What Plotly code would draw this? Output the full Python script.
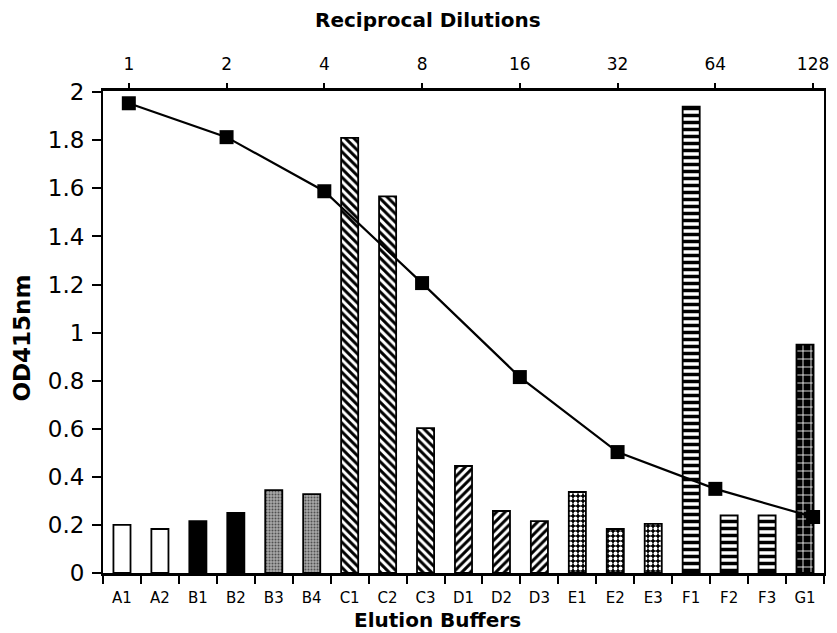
import plotly.graph_objects as go
import math

buffers = ["A1", "A2", "B1", "B2", "B3", "B4", "C1", "C2", "C3", "D1", "D2", "D3",
           "E1", "E2", "E3", "F1", "F2", "F3", "G1"]
od_buffers = [0.20, 0.183, 0.216, 0.25, 0.345, 0.328, 1.81, 1.567, 0.603, 0.445, 0.258, 0.216,
              0.337, 0.183, 0.204, 1.94, 0.24, 0.24, 0.95]

dilutions = [1, 2, 4, 8, 16, 32, 64, 128]
od_dilutions = [1.954, 1.813, 1.588, 1.206, 0.815, 0.503, 0.35, 0.233]

y_ticks = [0, 0.2, 0.4, 0.6, 0.8, 1, 1.2, 1.4, 1.6, 1.8, 2]
y_labels = ["0", "0.2", "0.4", "0.6", "0.8", "1", "1.2", "1.4", "1.6", "1.8", "2"]

# fill style per buffer group: (pattern shape, background, foreground, size, solidity)
group_style = {
    "A": ("", "white", "white", 8, 0.3),
    "B12": ("", "black", "black", 8, 0.3),
    "B34": (".", "#a8a8a8", "#505050", 3, 0.35),
    "C": ("\\", "white", "black", 6, 0.5),
    "D": ("/", "white", "black", 6, 0.5),
    "E": (".", "black", "white", 5, 0.5),
    "F": ("-", "white", "black", 7, 0.5),
    "G": ("+", "black", "white", 8, 0.2),
}
def style_key(b):
    if b in ("B1", "B2"):
        return "B12"
    if b in ("B3", "B4"):
        return "B34"
    return b[0]

TXT = "DejaVu Sans, Liberation Sans, Arial, sans-serif"

fig = go.Figure()
order = []
for b in buffers:
    k = style_key(b)
    if k not in order:
        order.append(k)
for k in order:
    xs = [b for b in buffers if style_key(b) == k]
    ys = [v for b, v in zip(buffers, od_buffers) if style_key(b) == k]
    shape, bg, fg, sz, sol = group_style[k]
    pat = dict(shape=shape, bgcolor=bg, fgcolor=fg, size=sz, solidity=sol, fillmode="replace")
    fig.add_trace(go.Bar(
        x=xs, y=ys, width=0.45, xaxis="x", yaxis="y",
        marker=dict(color=bg, line=dict(color="black", width=1.8), pattern=pat),
        showlegend=False,
    ))

fig.add_trace(go.Scatter(
    x=dilutions, y=od_dilutions, xaxis="x2", yaxis="y", mode="lines+markers",
    line=dict(color="black", width=2.2),
    marker=dict(symbol="square", size=14, color="black"),
    showlegend=False,
))

left = -0.2641
right = 7.1116
fig.update_layout(
    width=837, height=633,
    margin=dict(l=103, r=8, t=91, b=60),
    paper_bgcolor="white", plot_bgcolor="white",
    font=dict(family=TXT, color="black"),
    barmode="overlay",
    xaxis=dict(
        type="category", categoryorder="array", categoryarray=buffers,
        showline=True, linecolor="black", linewidth=3,
        mirror=True, ticks="outside", tickson="boundaries", ticklen=8,
        tickwidth=1.5, tickcolor="black", showgrid=False, zeroline=False,
        tickfont=dict(size=15, family=TXT), range=[-0.5, 18.5],
        ticklabelstandoff=9,
    ),
    xaxis2=dict(
        type="log", overlaying="x", side="top",
        range=[left * math.log10(2), right * math.log10(2)],
        tickvals=dilutions, ticktext=[str(d) for d in dilutions],
        ticks="outside", ticklen=6, tickwidth=1.5, tickcolor="black",
        showline=True, linecolor="black", linewidth=2, showgrid=False,
        tickfont=dict(size=17, family=TXT), ticklabelstandoff=6,
    ),
    yaxis=dict(
        range=[0, 2.005], tickvals=y_ticks, ticktext=y_labels,
        ticks="outside", ticklen=9, tickwidth=1.5, tickcolor="black",
        showline=True, linecolor="black", linewidth=2, mirror=True,
        showgrid=False, zeroline=False, tickfont=dict(size=23, family=TXT),
        ticklabelstandoff=3,
    ),
    annotations=[
        dict(text="<b>Reciprocal Dilutions</b>", xref="paper", yref="paper",
             x=(430 - 103) / 726, y=(573 - 20) / 482, yanchor="middle",
             xanchor="center", showarrow=False, font=dict(size=20, family=TXT)),
        dict(text="<b>Elution Buffers</b>", xref="paper", yref="paper",
             x=(440 - 103) / 726, y=(573 - 620) / 482, yanchor="middle",
             xanchor="center", showarrow=False, font=dict(size=20, family=TXT)),
        dict(text="<b>OD415nm</b>", xref="paper", yref="paper", textangle=-90,
             x=(21 - 103) / 726, y=(573 - 338) / 482, yanchor="middle",
             xanchor="center", showarrow=False, font=dict(size=23, family=TXT)),
    ],
)
fig.write_html("out.html")
